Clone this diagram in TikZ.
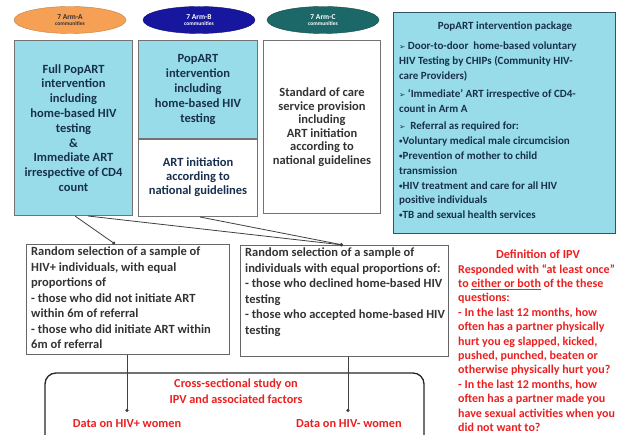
\documentclass[tikz,border=0pt]{standalone}
\usepackage{fontspec}
\setmainfont{Carlito}
\newfontfamily\symfont{DejaVu Sans}
\usetikzlibrary{shapes.geometric,arrows.meta,calc}

\definecolor{popcyan}{RGB}{152,220,234}
\definecolor{armorange}{RGB}{245,160,84}
\definecolor{armnavy}{RGB}{22,22,158}
\definecolor{armteal}{RGB}{28,104,104}
\definecolor{boxtext}{RGB}{24,48,78}
\definecolor{pkgborder}{RGB}{45,85,100}
\definecolor{ipvred}{RGB}{236,32,32}

\tikzset{
  armlabel/.style={ellipse, minimum width=112pt, minimum height=27pt, inner sep=0pt,
    align=center, font=\bfseries\fontsize{7.5}{7}\selectfont},
  armbox/.style={draw=black!55, line width=1pt, anchor=north west, inner sep=2pt,
    align=center, text=boxtext, font=\bfseries\fontsize{12.5}{14.8}\selectfont},
  midbox/.style={draw=black!60, line width=1pt, anchor=north west, inner sep=0pt},
  midtext/.style={anchor=north west, align=left, inner sep=0pt, text=black!80,
    font=\bfseries\fontsize{12.5}{15.5}\selectfont},
  redtext/.style={text=ipvred, inner sep=0pt, font=\bfseries\fontsize{12.3}{15.5}\selectfont},
  link/.style={draw=black!75, line width=0.8pt, -{Circle[length=3.2pt]}},
}

\newcommand{\tinycomm}{\\[-1pt]{\fontsize{5.5}{6}\selectfont communities}}
\newcommand{\pointer}{{\symfont\fontsize{7.5}{10}\selectfont ➢}}
\newcommand{\smalldot}{{\fontsize{7}{7}\selectfont\raisebox{1pt}{•}}}

\begin{document}
\begin{tikzpicture}[x=1pt, y=-1pt, font=\bfseries\fontsize{11}{15}\selectfont]
\useasboundingbox (0,0) rectangle (622,435);
\clip (0,0) rectangle (622,435);
\fill[white] (0,0) rectangle (622,435);

% arm labels
\node[armlabel, fill=armorange, draw=armorange!80!black, text=black!80] (ea) at (70,20) {7 Arm-A\tinycomm};
\node[armlabel, fill=armnavy, draw=armnavy!70!black, text=white] (eb) at (199,20) {7 Arm-B\tinycomm};
\node[armlabel, fill=armteal, draw=armteal!70!black, text=white] (ec) at (323,20) {7 Arm-C\tinycomm};

% arm boxes
\node[armbox, fill=popcyan, minimum width=118pt, minimum height=175pt] (ba) at (14,40)
  {Full PopART\\intervention\\including\\home-based HIV\\testing\\\&\\Immediate ART\\irrespective of CD4\\count};

\node[armbox, fill=popcyan, minimum width=119pt, minimum height=98pt] (bt) at (138,40)
  {PopART\\intervention\\including\\home-based HIV\\testing};
\node[armbox, fill=white, minimum width=119pt, minimum height=77pt, anchor=north,
      font=\bfseries\fontsize{12.5}{14}\selectfont] (bb) at (bt.south)
  {\\[-6pt]ART initiation\\according to\\national guidelines};

\node[armbox, fill=white, minimum width=117pt, minimum height=173pt, text=black!80,
      font=\bfseries\fontsize{12.5}{13.5}\selectfont] (bc) at (263,40)
  {Standard of care\\service provision\\including\\ART initiation\\according to\\national guidelines};

% intervention package
\node[draw=pkgborder, line width=1.4pt, fill=popcyan, anchor=north west,
      minimum width=222pt, minimum height=221pt, inner sep=0pt] (pk) at (393,12) {};
\node[text=boxtext, inner sep=0pt] (pkt) at (505,27) {PopART intervention package};
\node[text=boxtext, anchor=north west, align=left, inner sep=0pt,
      font=\bfseries\fontsize{11}{14.8}\selectfont] (pkl) at (399,42)
  {\pointer\ Door-to-door\ \ home-based voluntary\\
   HIV Testing by CHIPs (Community HIV-\\
   care Providers)\\[3pt]
   \pointer\ ‘Immediate’ ART irrespective of CD4-\\
   count in Arm A\\[3pt]
   \pointer\ \ Referral as required for:\\
   \smalldot Voluntary medical male circumcision\\
   \smalldot Prevention of mother to child\\
   transmission\\
   \smalldot HIV treatment and care for all HIV\\
   positive individuals\\
   \smalldot TB and sexual health services};

% sampling boxes
\node[midbox, minimum width=203pt, minimum height=110pt] (ml) at (26,244) {};
\node[midtext] (mlt) at (31,247)
  {Random selection of a sample of\\
   HIV+ individuals, with equal\\
   proportions of\\
   - those who did not initiate ART\\
   within 6m of referral\\
   - those who did initiate ART within\\
   6m of referral};

\node[midbox, minimum width=208pt, minimum height=111pt] (mr) at (240,245) {};
\node[midtext] (mrt) at (245,248)
  {Random selection of a sample of\\
   individuals with equal proportions of:\\
   - those who declined home-based HIV\\
   testing\\
   - those who accepted home-based HIV\\
   testing};

% study frame
\draw[black!85, line width=1.3pt, rounded corners=11pt] (45,373) rectangle (424,450);
\node[redtext, align=center] (cs) at (236,391) {Cross-sectional study on\\IPV and associated factors};
\coordinate (dl) at (127,412);
\coordinate (dr) at (348,412);
\node[redtext] (wl) at (127,424) {Data on HIV+ women};
\node[redtext] (wr) at (349,424) {Data on HIV- women};

% IPV definition
\node[redtext] (dt) at (538,254) {Definition of IPV};
\node[redtext, anchor=north west, align=left, font=\bfseries\fontsize{12}{14.4}\selectfont] (dd) at (458,264)
  {Responded with “at least once”\\
   to \underline{either or both} of the these\\
   questions:\\
   - In the last 12 months, how\\
   often has a partner physically\\
   hurt you eg slapped, kicked,\\
   pushed, punched, beaten or\\
   otherwise physically hurt you?\\
   - In the last 12 months, how\\
   often has a partner made you\\
   have sexual activities when you\\
   did not want to?};

% connectors
\draw[link] ($(ba.south west)+(61,0)$) -- ($(ml.north west)+(89,0)$);
\draw[link] ($(ba.south west)+(74,0)$) -- ($(mr.north west)+(103,0)$);
\draw[link] ($(bb.south west)+(62,0)$) -- ($(mr.north west)+(103,0)$);
\draw[link] (ml.south -| dl) -- (dl);
\draw[link] (mr.south -| dr) -- (dr);
\end{tikzpicture}
\end{document}
